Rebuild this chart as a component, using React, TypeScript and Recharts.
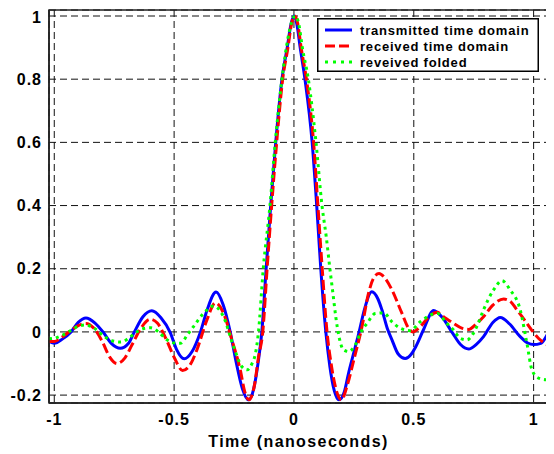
import { LineChart, Line, XAxis, YAxis, CartesianGrid, Legend, ReferenceArea } from 'recharts';

// axis ticks (nanoseconds / normalised amplitude)
const timeTicks = [-1, -0.5, 0, 0.5, 1];
const ampTicks = [-0.2, 0, 0.2, 0.4, 0.6, 0.8, 1];
const timeRange: [number, number] = [-1.022, 1.06];
const ampRange: [number, number] = [-0.225, 1.019];

const seriesNames = ['transmitted time domain', 'received time domain', 'reveived folded'];

// [time, amplitude]
const transmitted: [number, number][] = [
  [-1.022, -0.03], [-1.0, -0.036], [-0.965, -0.022], [-0.93, 0.0], [-0.9, 0.03], [-0.868, 0.044],
  [-0.83, 0.028], [-0.795, -0.002], [-0.76, -0.038], [-0.725, -0.052], [-0.69, -0.036], [-0.667, -0.002],
  [-0.63, 0.048], [-0.593, 0.067], [-0.555, 0.045], [-0.516, -0.002], [-0.49, -0.055], [-0.458, -0.085],
  [-0.425, -0.062], [-0.39, 0.0], [-0.36, 0.075], [-0.325, 0.126], [-0.295, 0.085], [-0.266, 0.0],
  [-0.24, -0.1], [-0.215, -0.18], [-0.19, -0.215], [-0.168, -0.18], [-0.15, -0.1], [-0.134, 0.0],
  [-0.116, 0.2], [-0.097, 0.4], [-0.076, 0.6], [-0.05, 0.8], [-0.028, 0.9], [-0.012, 0.975], [0, 1.0],
  [0.012, 0.975], [0.026, 0.9], [0.046, 0.8], [0.076, 0.6], [0.095, 0.4], [0.112, 0.2], [0.133, 0.0],
  [0.15, -0.11], [0.168, -0.185], [0.188, -0.215], [0.21, -0.19], [0.228, -0.13], [0.25, -0.065],
  [0.272, 0.0], [0.29, 0.059], [0.325, 0.127], [0.35, 0.105], [0.367, 0.07], [0.39, 0.01],
  [0.409, -0.025], [0.435, -0.07], [0.464, -0.084], [0.49, -0.07], [0.506, -0.05], [0.54, 0.006],
  [0.583, 0.068], [0.62, 0.045], [0.662, -0.004], [0.695, -0.04], [0.729, -0.054], [0.76, -0.04],
  [0.791, -0.015], [0.83, 0.03], [0.861, 0.046], [0.9, 0.025], [0.944, -0.015], [0.975, -0.035],
  [1.0, -0.04], [1.03, -0.036], [1.06, -0.004],
];

const received: [number, number][] = [
  [-1.022, -0.03], [-1.0, -0.03], [-0.965, -0.015], [-0.93, 0.005], [-0.9, 0.02], [-0.868, 0.027],
  [-0.835, 0.012], [-0.8, -0.03], [-0.77, -0.078], [-0.738, -0.1], [-0.705, -0.082], [-0.675, -0.04],
  [-0.64, 0.01], [-0.6, 0.04], [-0.57, 0.028], [-0.535, -0.02], [-0.5, -0.08], [-0.465, -0.122],
  [-0.43, -0.1], [-0.405, -0.057], [-0.363, 0.038], [-0.328, 0.092], [-0.294, 0.059], [-0.259, -0.025],
  [-0.224, -0.12], [-0.205, -0.19], [-0.188, -0.215], [-0.165, -0.17], [-0.148, -0.08], [-0.13, 0.0],
  [-0.112, 0.2], [-0.093, 0.4], [-0.072, 0.6], [-0.047, 0.8], [-0.025, 0.9], [-0.01, 0.975], [0.003, 1.0],
  [0.016, 0.975], [0.03, 0.9], [0.052, 0.8], [0.082, 0.6], [0.1, 0.4], [0.118, 0.2], [0.138, 0.0],
  [0.155, -0.1], [0.175, -0.18], [0.198, -0.215], [0.222, -0.17], [0.25, -0.088], [0.284, 0.017],
  [0.311, 0.122], [0.332, 0.17], [0.355, 0.185], [0.38, 0.17], [0.409, 0.133], [0.45, 0.06],
  [0.478, 0.012], [0.495, 0.0], [0.527, 0.017], [0.56, 0.045], [0.597, 0.062], [0.63, 0.045],
  [0.666, 0.027], [0.7, 0.012], [0.729, 0.008], [0.76, 0.025], [0.791, 0.048], [0.83, 0.085],
  [0.875, 0.104], [0.905, 0.095], [0.93, 0.07], [0.96, 0.04], [0.986, 0.012], [1.02, -0.02], [1.06, -0.042],
];

const folded: [number, number][] = [
  [-1.022, -0.022], [-1.0, -0.02], [-0.965, -0.01], [-0.93, 0.005], [-0.9, 0.018], [-0.868, 0.022],
  [-0.83, 0.01], [-0.795, -0.012], [-0.76, -0.028], [-0.722, -0.032], [-0.69, -0.02], [-0.66, -0.002],
  [-0.63, 0.01], [-0.597, 0.013], [-0.565, 0.0], [-0.53, -0.025], [-0.5, -0.035], [-0.474, -0.036],
  [-0.445, -0.01], [-0.419, 0.017], [-0.377, 0.059], [-0.335, 0.082], [-0.294, 0.048], [-0.252, -0.046],
  [-0.217, -0.11], [-0.195, -0.12], [-0.175, -0.1], [-0.161, -0.07], [-0.148, 0.0], [-0.128, 0.2],
  [-0.1, 0.4], [-0.078, 0.6], [-0.05, 0.8], [-0.025, 0.93], [-0.01, 0.98], [0.005, 1.0], [0.02, 0.975],
  [0.035, 0.9], [0.06, 0.8], [0.092, 0.6], [0.117, 0.4], [0.135, 0.3], [0.15, 0.2], [0.163, 0.12],
  [0.175, 0.045], [0.188, -0.015], [0.207, -0.057], [0.228, -0.062], [0.256, -0.041], [0.277, -0.004],
  [0.305, 0.027], [0.339, 0.058], [0.374, 0.06], [0.409, 0.032], [0.443, 0.012], [0.485, 0.004],
  [0.527, 0.032], [0.597, 0.059], [0.638, 0.027], [0.666, 0.006], [0.694, -0.02], [0.722, -0.025],
  [0.763, 0.017], [0.791, 0.07], [0.833, 0.133], [0.868, 0.162], [0.902, 0.133], [0.944, 0.07],
  [0.972, -0.036], [0.993, -0.12], [1.02, -0.146], [1.06, -0.152],
];

const toPoints = (pairs: [number, number][]) => pairs.map(([t, v]) => ({ t, v }));

const colors = ['#0000ff', '#ff0000', '#00ff00'];
const dashes = [undefined, '10 4', '3 4'];
const font = '"Liberation Sans", Arial, sans-serif';

function BoxLegend() {
  return (
    <svg width={222} height={54} style={{ display: 'block' }}>
      <rect x={0.75} y={0.75} width={220.5} height={52.5} fill="#fff" stroke="#000" strokeWidth={1.5} />
      {seriesNames.map((name, i) => (
        <g key={name}>
          <line x1={8} x2={35} y1={12 + i * 16} y2={12 + i * 16} stroke={colors[i]} strokeWidth={3}
            strokeDasharray={i === 2 ? '3 5' : dashes[i]} />
          <text x={43} y={12 + i * 16} dy="0.36em" fontSize={13} fontWeight="bold" letterSpacing={0.8}
            fontFamily={font} fill="#000">{name}</text>
        </g>
      ))}
    </svg>
  );
}

export default function App() {
  const tickStyle = { fill: '#000', fontSize: 16, fontWeight: 'bold', letterSpacing: 1, fontFamily: font };
  const axisLine = { stroke: '#222', strokeWidth: 1.5 };

  return (
    <div style={{ width: 546, height: 446, fontFamily: font }}>
      <LineChart width={546} height={446} margin={{ top: 2, right: 6, bottom: 0, left: 0 }}>
        <CartesianGrid stroke="#111" strokeDasharray="7 4" />
        <XAxis dataKey="t" type="number" domain={timeRange} ticks={timeTicks} allowDataOverflow
          height={51} tickLine={false} tickSize={0} tickMargin={11} tick={tickStyle} axisLine={axisLine}
          label={{ value: 'Time (nanoseconds)', position: 'insideBottom', offset: 7, fill: '#000',
            fontSize: 16, fontWeight: 'bold', letterSpacing: 1.4, fontFamily: font }} />
        <YAxis type="number" domain={ampRange} ticks={ampTicks} allowDataOverflow width={41}
          tickLine={false} tickSize={0} tickMargin={7} tick={tickStyle} axisLine={axisLine} />
        {/* matlab style box round the axes */}
        <ReferenceArea x1={timeRange[0]} x2={timeRange[1]} y1={ampRange[0]} y2={ampRange[1]}
          fill="none" fillOpacity={0} stroke="#222" strokeWidth={1.5} ifOverflow="visible" />
        <Legend layout="vertical" align="center" verticalAlign="middle" content={() => <BoxLegend />}
          wrapperStyle={{ left: 309, top: 10, width: 222, height: 54 }} />
        <Line data={toPoints(transmitted)} dataKey="v" name={seriesNames[0]} type="monotone"
          stroke={colors[0]} strokeWidth={3} dot={false} activeDot={false} isAnimationActive={false} />
        <Line data={toPoints(received)} dataKey="v" name={seriesNames[1]} type="monotone"
          stroke={colors[1]} strokeWidth={3} strokeDasharray={dashes[1]} dot={false} activeDot={false}
          isAnimationActive={false} />
        <Line data={toPoints(folded)} dataKey="v" name={seriesNames[2]} type="monotone"
          stroke={colors[2]} strokeWidth={3} strokeDasharray={dashes[2]} dot={false} activeDot={false}
          isAnimationActive={false} />
      </LineChart>
    </div>
  );
}
